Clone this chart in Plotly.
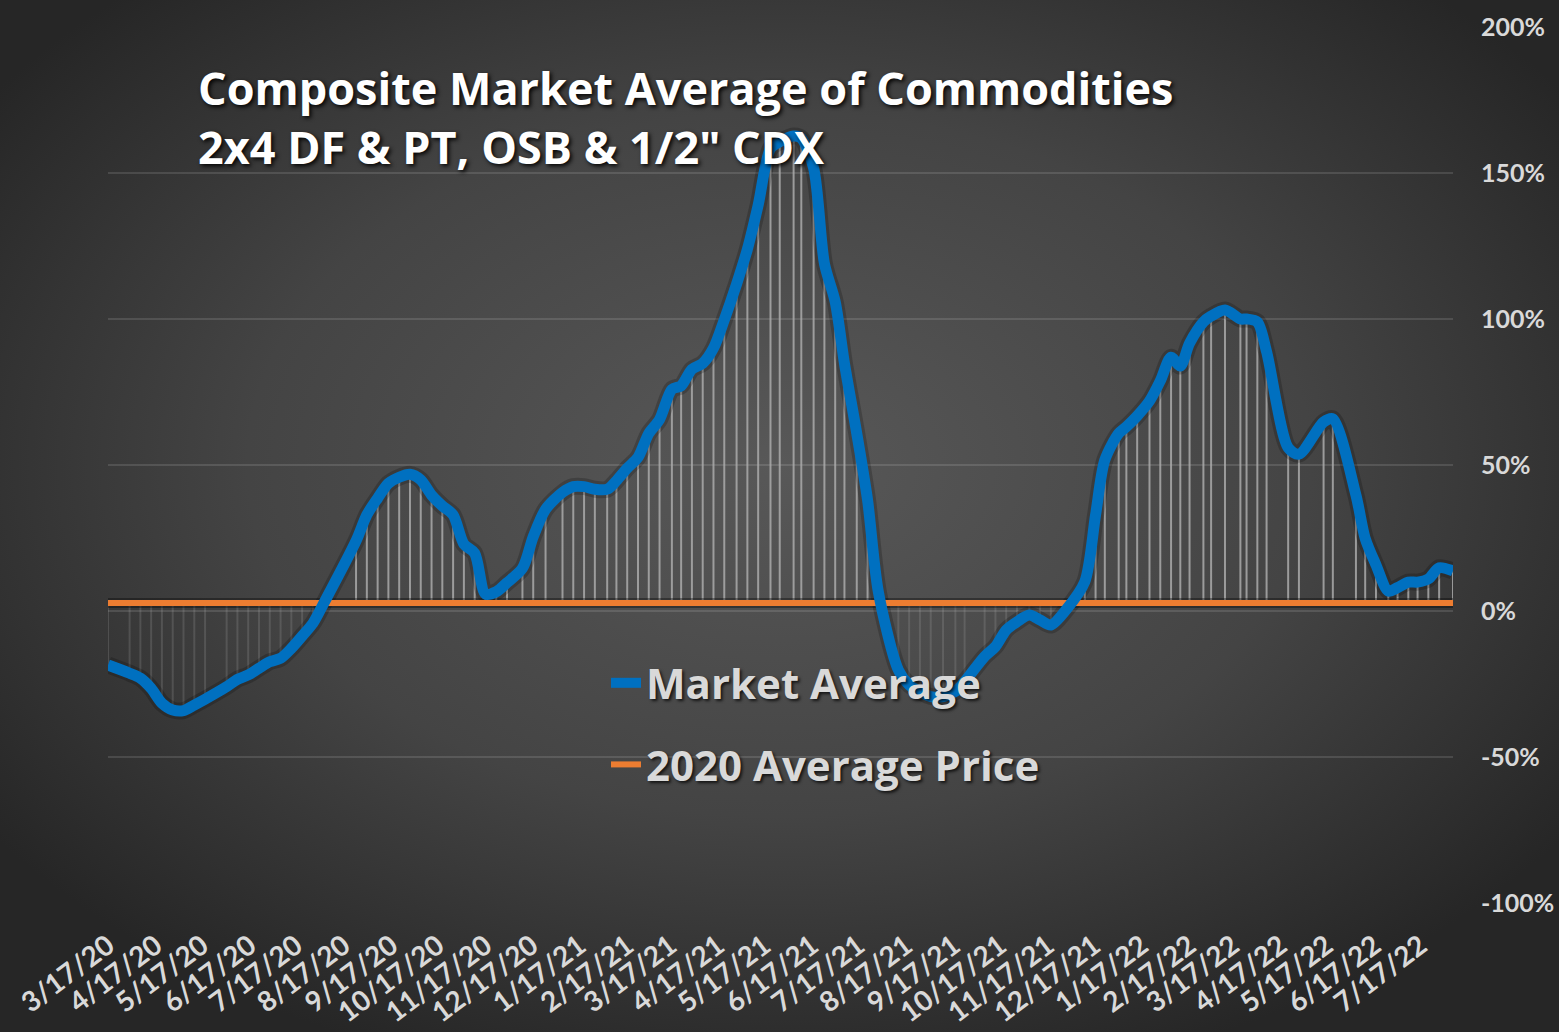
import base64
import pandas as pd
import plotly.graph_objects as go

# ---------------- data ----------------
start_date = "2020-03-17"
day_offsets = [0, 14, 21, 28, 35, 42, 49, 56, 63, 77, 84, 91, 98, 105, 112, 119, 126, 133, 140,
               161, 168, 175, 182, 189, 196, 203, 210, 217, 224, 231, 238, 245, 252, 259, 269,
               276, 284, 295, 302, 309, 316, 324, 330, 337, 344, 351, 358, 366, 372, 379, 386,
               393, 400, 408, 415, 422, 430, 436, 445, 450, 458, 465, 472, 478, 486, 493, 500,
               513, 520, 527, 534, 542, 550, 556, 569, 576, 583, 590, 598, 605, 612, 622, 634,
               641, 647, 656, 661, 668, 676, 683, 690, 696, 702, 711, 716, 725, 735, 739, 746,
               752, 766, 773, 789, 795, 810, 816, 823, 831, 837, 844, 850, 857, 864, 873]
market_average = [-18.5, -21.3, -23.0, -26.5, -31.6, -33.9, -34.1, -32.2, -30.2, -25.9, -23.4,
                  -21.9, -19.6, -17.4, -16.2, -12.8, -8.6, -4.2, 2.6, 24.0, 32.9, 38.6, 43.7,
                  45.8, 46.8, 44.9, 39.7, 36.0, 32.9, 22.9, 19.8, 5.8, 6.6, 9.7, 14.6, 25.4,
                  34.8, 40.6, 42.6, 42.6, 41.7, 41.7, 44.6, 48.9, 52.6, 60.8, 65.6, 75.9, 77.1,
                  82.8, 84.8, 90.0, 99.7, 112.0, 123.9, 139.0, 158.4, 160.7, 162.7, 161.9,
                  151.7, 119.0, 105.9, 84.8, 60.8, 38.0, 6.6, -20.2, -25.3, -27.6, -29.3,
                  -29.3, -27.6, -24.2, -15.6, -12.2, -6.5, -3.7, -1.4, -3.1, -4.8, 0.5, 10.0,
                  32.9, 51.7, 60.8, 63.1, 66.8, 71.9, 78.8, 86.9, 83.9, 91.7, 99.0, 101.0,
                  103.1, 100.0, 100.0, 99.0, 88.8, 55.9, 53.7, 64.7, 65.8, 39.7, 24.9, 15.8,
                  6.8, 8.0, 9.9, 9.9, 11.0, 14.8, 13.7]
avg_2020 = 2.7
series_names = ["Market Average", "2020 Average Price"]
title_lines = ["Composite Market Average of Commodities", "2x4 DF &amp; PT, OSB &amp; 1/2\" CDX"]
y_ticks = [-100, -50, 0, 50, 100, 150, 200]
y_tick_text = ["-100%", "-50%", "0%", "50%", "100%", "150%", "200%"]

# ---------------- derived ----------------
dates = pd.to_datetime(start_date) + pd.to_timedelta(day_offsets, unit="D")
avg_line = [avg_2020] * len(dates)

BLUE = "#0070C0"
ORANGE = "#ED7D31"
TXT = "#D9D9D9"
FONT = "Lato"
WIDE = "Open Sans"

# high-low lines between the two series
hx_up, hy_up, hx_dn, hy_dn = [], [], [], []
for d, v, a in zip(dates, market_average, avg_line):
    if v >= a:
        hx_up += [d, d, None]; hy_up += [a, v, None]
    else:
        hx_dn += [d, d, None]; hy_dn += [a, v, None]

fig = go.Figure()
fig.add_trace(go.Scatter(x=hx_dn, y=hy_dn, mode="lines", showlegend=False, hoverinfo="skip",
                         line=dict(color="rgba(170,170,170,0.22)", width=2)))
fig.add_trace(go.Scatter(x=hx_up, y=hy_up, mode="lines", showlegend=False, hoverinfo="skip",
                         line=dict(color="rgba(170,170,170,0.85)", width=2)))
# soft shadows
fig.add_trace(go.Scatter(x=dates, y=avg_line, mode="lines", showlegend=False, hoverinfo="skip",
                         line=dict(color="rgba(0,0,0,0.35)", width=10)))
fig.add_trace(go.Scatter(x=dates, y=market_average, mode="lines", showlegend=False, hoverinfo="skip",
                         line=dict(color="rgba(0,0,0,0.2)", width=17, shape="spline", smoothing=0.8)))
fig.add_trace(go.Scatter(x=dates, y=avg_line, mode="lines", name=series_names[1],
                         legendgroup="b", legendrank=2,
                         line=dict(color=ORANGE, width=6)))
fig.add_trace(go.Scatter(x=dates, y=market_average, mode="lines", name=series_names[0],
                         legendgroup="a", legendrank=1,
                         line=dict(color=BLUE, width=11, shape="spline", smoothing=0.8)))

# background radial gradient
svg = """<svg xmlns='http://www.w3.org/2000/svg' width='1559' height='1032' viewBox='0 0 1559 1032' preserveAspectRatio='none'>
<defs><radialGradient id='g' cx='0.5' cy='0.45' r='0.62'>
<stop offset='0' stop-color='#585858'/><stop offset='0.55' stop-color='#444444'/>
<stop offset='1' stop-color='#262626'/></radialGradient></defs>
<rect width='1559' height='1032' fill='url(#g)'/></svg>"""
bg_uri = "data:image/svg+xml;base64," + base64.b64encode(svg.encode()).decode()

L, R, T, B = 108, 106, 27, 129
W, H = 1559, 1032
pw, ph = W - L - R, H - T - B

fig.add_layout_image(dict(source=bg_uri, xref="paper", yref="paper",
                          x=-L / pw, y=1 + T / ph, sizex=W / pw, sizey=H / ph,
                          xanchor="left", yanchor="top", sizing="stretch", layer="below"))

fig.add_annotation(xref="paper", yref="paper", x=(196 - L) / pw, y=(H - B - 55) / ph,
                   xanchor="left", yanchor="top", align="left", showarrow=False,
                   text="<br>".join(title_lines),
                   font=dict(family=WIDE, size=45, color="white", weight="bold",
                             shadow="2px 2px 4px rgba(0,0,0,0.95)"))

fig.update_layout(
    width=W, height=H,
    margin=dict(l=L, r=R, t=T, b=B, autoexpand=False),
    paper_bgcolor="#333333",
    plot_bgcolor="rgba(0,0,0,0)",
    showlegend=True,
    legend=dict(x=(606 - L) / pw, y=(H - B - 649) / ph, xanchor="left", yanchor="top",
                bgcolor="rgba(0,0,0,0)", traceorder="grouped", tracegroupgap=24,
                font=dict(family=WIDE, size=42, color=TXT, weight="bold",
                          shadow="2px 2px 3px rgba(0,0,0,0.7)")),
    xaxis=dict(type="date", range=[dates[0], dates[-1]], automargin=False,
               tick0=start_date, dtick="M1", tickformat="%-m/%d/%y", tickangle=-37,
               showgrid=False, zeroline=False, showline=False, ticks="",
               ticklabelstandoff=20,
               tickfont=dict(family=FONT, size=28, color=TXT, weight="bold")),
    yaxis=dict(side="right", range=[-100, 200], tickvals=y_ticks, ticktext=y_tick_text,
               automargin=False,
               showgrid=True, gridcolor="rgba(255,255,255,0.12)", gridwidth=2,
               zeroline=False, showline=False, ticks="", ticklabelstandoff=27,
               tickfont=dict(family=FONT, size=25, color=TXT, weight="bold")),
)

fig.write_html("out.html")
